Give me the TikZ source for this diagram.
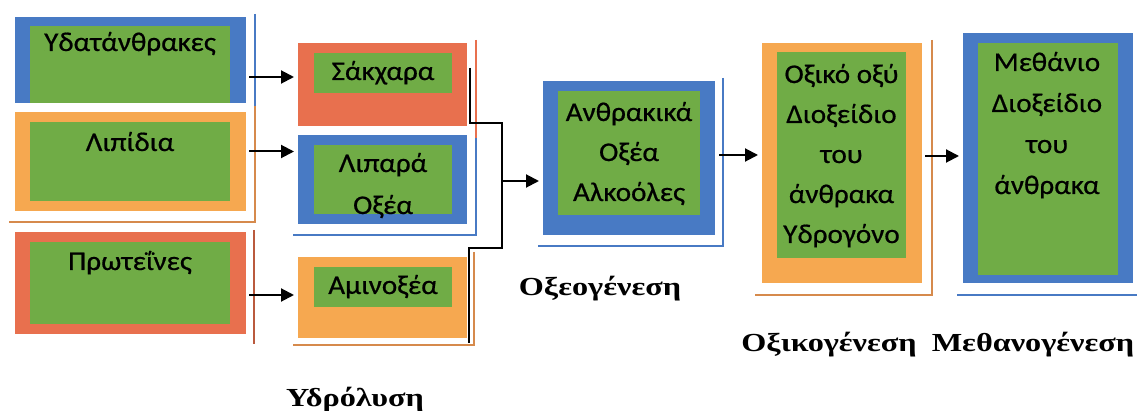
\documentclass[tikz,border=0pt]{standalone}
\usepackage{fontspec}
\setmainfont{Carlito}[FakeStretch=1.08,FakeBold=0.6]
\newfontfamily\lblfont{Liberation Serif}[FakeStretch=1.24]
\usetikzlibrary{arrows.meta,fit}
\definecolor{cblue}{RGB}{72,122,196}
\definecolor{corange}{RGB}{246,168,80}
\definecolor{cred}{RGB}{232,112,78}
\definecolor{cgreen}{RGB}{112,172,70}
\definecolor{cbrown}{RGB}{214,138,76}
\tikzset{
  rect/.style={inner sep=0pt, outer sep=0pt, draw=none},
  btext/.style={anchor=base, inner sep=0pt, font=\fontsize{27}{30}\selectfont},
  lbl/.style={anchor=base, inner sep=0pt, font=\lblfont\bfseries\fontsize{26}{30}\selectfont},
  arr/.style={line width=2pt, -{Triangle[length=13pt,width=13pt]}, shorten >=4pt},
  conn/.style={line width=2pt},
  shade/.style={line width=1.6pt}
}
\newcommand{\boxlines}[5]{%
  \foreach \t [count=\i from 0] in {#5} {\node[btext] (#1-t\i) at (#2,{#3+#4*\i}) {\t};}}
\begin{document}
\begin{tikzpicture}[x=1pt,y=-1pt]
\useasboundingbox (0,0) rectangle (1137,411);
\fill[white] (0,0) rectangle (1137,411);

% thin accent lines
\draw[shade, cblue] (255,14) -- (255,106);
\draw[shade, cbrown] (255,106) -- (255,222) -- (9,222);
\draw[shade, cred!80!black] (254,230) -- (254,344);
\draw[shade, cred] (476,40) -- (476,138);
\draw[shade, cblue] (476,138) -- (476,235) -- (293,235);
\draw[shade, cbrown] (474,252) -- (474,345) -- (293,345);
\draw[shade, cblue] (723,78) -- (723,246) -- (538,246);
\draw[shade, cbrown] (932,40) -- (932,295) -- (755,295);
\draw[shade, cblue] (957,295) -- (1137,295);

% left column
\node[rect, fill=cblue, fit={(15,17) (246,103)}] (b1) {};
\node[rect, fill=cgreen, fit={(30,26) (230,103)}] (b1g) {};
\node[rect, fill=corange, fit={(15,112) (246,211)}] (b2) {};
\node[rect, fill=cgreen, fit={(30,122) (230,201)}] (b2g) {};
\node[rect, fill=cred, fit={(15,232) (246,334)}] (b3) {};
\node[rect, fill=cgreen, fit={(30,242) (230,324)}] (b3g) {};
\boxlines{b1}{130}{51}{40}{Υδατάνθρακες}
\boxlines{b2}{130}{151}{40}{Λιπίδια}
\boxlines{b3}{130}{270}{40}{Πρωτεΐνες}

% second column
\node[rect, fill=cred, fit={(298,43) (467,126)}] (s1) {};
\node[rect, fill=cgreen, fit={(314,53) (452,93)}] (s1g) {};
\node[rect, fill=cblue, fit={(298,135) (467,224)}] (s2) {};
\node[rect, fill=cgreen, fit={(314,145) (452,214)}] (s2g) {};
\node[rect, fill=corange, fit={(298,257) (467,338)}] (s3) {};
\node[rect, fill=cgreen, fit={(314,267) (452,307)}] (s3g) {};
\boxlines{s1}{383}{80}{40}{Σάκχαρα}
\boxlines{s2}{383}{172}{42}{Λιπαρά,Οξέα}
\boxlines{s3}{383}{294}{40}{Αμινοξέα}

% third column
\node[rect, fill=cblue, fit={(543,81) (715,235)}] (c) {};
\node[rect, fill=cgreen, fit={(558,91) (700,215)}] (cg) {};
\boxlines{c}{629}{121}{40}{Ανθρακικά,Οξέα,Αλκοόλες}

% fourth column
\node[rect, fill=corange, fit={(762,43) (922,283)}] (d) {};
\node[rect, fill=cgreen, fit={(777,52) (906,258)}] (dg) {};
\boxlines{d}{841.5}{83}{40}{Οξικό οξύ,Διοξείδιο,του,άνθρακα,Υδρογόνο}

% fifth column
\node[rect, fill=cblue, fit={(963,33) (1133,283)}] (e) {};
\node[rect, fill=cgreen, fit={(978,43) (1118,275)}] (eg) {};
\boxlines{e}{1047}{71}{41}{Μεθάνιο,Διοξείδιο,του,άνθρακα}

% arrows left -> second column
\coordinate (a1) at ([xshift=3pt,yshift=-17pt]b1.east);
\draw[arr] (a1) -- (a1 -| s1.west);
\coordinate (a2) at ([xshift=3pt,yshift=10pt]b2.east);
\draw[arr] (a2) -- (a2 -| s2.west);
\coordinate (a3) at ([xshift=3pt,yshift=-12pt]b3.east);
\draw[arr] (a3) -- (a3 -| s3.west);

% collector bracket
\coordinate (ja) at (502,123);
\coordinate (jb) at (502,248);
\draw[conn] ([xshift=3pt,yshift=-25pt]s1.north east) |- (ja) -- (jb) -| ([xshift=2pt,yshift=-5pt]s3.south east);
\coordinate (ca) at ([yshift=-23pt]c.west);
\draw[arr] (ca -| ja) -- (ca);

% further arrows
\coordinate (a4) at ([xshift=4pt,yshift=3pt]c.east);
\draw[arr] (a4) -- (a4 -| d.west);
\coordinate (a5) at ([xshift=3pt,yshift=7pt]d.east);
\draw[arr] (a5) -- (a5 -| e.west);

% stage labels
\node[lbl] (l1) at (600,296) {Οξεογένεση};
\node[lbl] (l2) at (829,352) {Οξικογένεση};
\node[lbl] (l3) at (1033,352) {Μεθανογένεση};
\node[lbl] (l4) at (355,406) {Υδρόλυση};
\end{tikzpicture}
\end{document}
